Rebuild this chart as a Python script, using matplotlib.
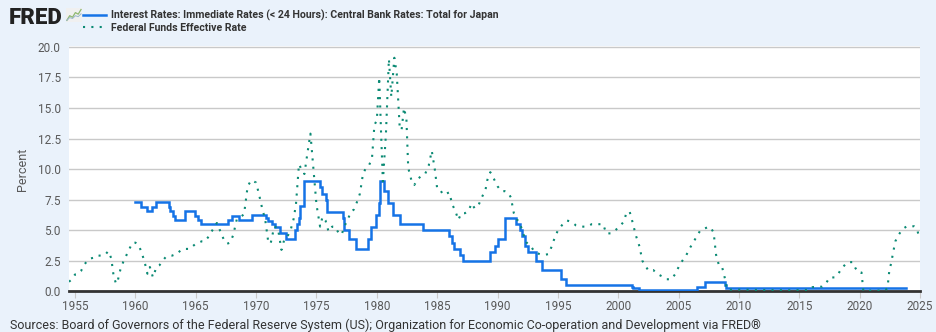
import matplotlib.pyplot as plt
import numpy as np

# Japan central bank rate (step series), decimal year -> percent
jp_dates = [1960.0, 1960.5, 1960.95, 1961.4, 1961.7, 1962.8, 1962.9, 1963.1, 1963.25,
            1964.1, 1964.95, 1965.15, 1965.4, 1967.65, 1968.0, 1968.55, 1969.7, 1970.8,
            1971.0, 1971.35, 1971.6, 1972.0, 1972.45, 1973.25, 1973.4, 1973.55, 1973.65,
            1973.95, 1975.3, 1975.45, 1975.8, 1975.85, 1977.2, 1977.3, 1977.7, 1978.3,
            1979.3, 1979.55, 1979.9, 1980.15, 1980.3, 1980.6, 1980.9, 1981.3, 1981.95,
            1983.8, 1986.0, 1986.25, 1986.4, 1986.85, 1987.15, 1989.35, 1989.8, 1990.0,
            1990.65, 1991.5, 1991.85, 1992.05, 1992.3, 1992.55, 1993.15, 1993.7, 1995.25,
            1995.7, 2001.1, 2001.25, 2001.7, 2006.55, 2007.15, 2008.8, 2008.95, 2023.85]
jp_rates = [7.30, 6.94, 6.57, 6.94, 7.30, 6.94, 6.57, 6.21, 5.84,
            6.57, 6.21, 5.84, 5.48, 5.84, 6.21, 5.84, 6.25, 6.00,
            5.75, 5.50, 5.25, 4.75, 4.25, 5.00, 5.50, 6.00, 7.00,
            9.00, 8.50, 8.00, 7.50, 6.50, 6.00, 5.00, 4.25, 3.50,
            4.25, 5.25, 6.25, 7.25, 9.00, 8.25, 7.25, 6.25, 5.50,
            5.00, 4.50, 4.00, 3.50, 3.00, 2.50, 3.25, 3.75, 4.25,
            6.00, 5.50, 5.00, 4.50, 3.75, 3.25, 2.50, 1.75, 1.00,
            0.50, 0.35, 0.25, 0.10, 0.40, 0.75, 0.50, 0.30, 0.30]

# Federal funds effective rate, decimal year -> percent
ff_dates = [1954.5, 1954.75, 1955.0, 1955.25, 1955.5, 1955.75, 1956.0, 1956.25, 1956.5,
            1956.75, 1957.0, 1957.25, 1957.5, 1957.75, 1958.0, 1958.2, 1958.4, 1958.55,
            1958.75, 1959.0, 1959.25, 1959.5, 1959.75, 1960.0, 1960.25, 1960.5, 1960.75,
            1961.0, 1961.2, 1961.45, 1961.75, 1962.0, 1962.25, 1962.5, 1962.75, 1963.0,
            1963.5, 1963.75, 1964.0, 1964.5, 1964.75, 1965.0, 1965.5, 1965.75, 1966.0,
            1966.5, 1966.75, 1967.0, 1967.3, 1967.6, 1967.85, 1968.1, 1968.4, 1968.7,
            1969.0, 1969.3, 1969.6, 1969.8, 1970.0, 1970.25, 1970.5, 1970.75, 1971.0,
            1971.2, 1971.5, 1971.8, 1972.1, 1972.35, 1972.6, 1972.85, 1973.1, 1973.3,
            1973.55, 1973.75, 1974.0, 1974.25, 1974.5, 1974.75, 1975.0, 1975.3, 1975.5,
            1975.75, 1976.0, 1976.3, 1976.55, 1976.9, 1977.1, 1977.35, 1977.6, 1977.85,
            1978.1, 1978.35, 1978.6, 1978.85, 1979.1, 1979.35, 1979.6, 1979.8, 1980.0,
            1980.2, 1980.35, 1980.5, 1980.75, 1981.0, 1981.2, 1981.45, 1981.65, 1981.9,
            1982.05, 1982.25, 1982.45, 1982.6, 1982.9, 1983.1, 1983.4, 1983.75, 1984.0,
            1984.3, 1984.55, 1984.8, 1985.0, 1985.25, 1985.5, 1985.75, 1986.0, 1986.25,
            1986.5, 1986.75, 1987.0, 1987.3, 1987.6, 1987.85, 1988.1, 1988.4, 1988.7,
            1989.0, 1989.15, 1989.4, 1989.7, 1990.0, 1990.3, 1990.6, 1990.85, 1991.1,
            1991.35, 1991.6, 1991.85, 1992.1, 1992.4, 1992.75, 1993.1, 1993.5, 1993.9,
            1994.2, 1994.45, 1994.7, 1995.0, 1995.4, 1995.75, 1996.1, 1996.5, 1997.0,
            1997.4, 1997.8, 1998.3, 1998.75, 1999.0, 1999.4, 1999.75, 2000.1, 2000.45,
            2000.7, 2000.95, 2001.2, 2001.45, 2001.75, 2002.0, 2002.5, 2002.9, 2003.3,
            2003.6, 2004.0, 2004.4, 2004.7, 2005.0, 2005.3, 2005.6, 2005.9, 2006.2,
            2006.5, 2006.8, 2007.4, 2007.65, 2007.9, 2008.1, 2008.35, 2008.6, 2008.85,
            2009.0, 2010.0, 2012.0, 2014.0, 2015.9, 2016.1, 2016.9, 2017.2, 2017.5,
            2017.9, 2018.2, 2018.5, 2018.8, 2019.0, 2019.4, 2019.65, 2019.9, 2020.15,
            2020.3, 2021.0, 2022.1, 2022.3, 2022.45, 2022.6, 2022.75, 2022.95, 2023.2,
            2023.55, 2023.9, 2024.5, 2024.75, 2024.9]
ff_rates = [0.80, 1.0, 1.39, 1.43, 1.68, 2.18, 2.48, 2.69, 2.75,
            2.93, 2.93, 2.96, 3.0, 3.3, 2.72, 1.26, 0.63, 0.93,
            1.76, 2.43, 2.96, 3.47, 3.98, 3.99, 3.84, 3.23, 2.47,
            1.45, 2.0, 1.17, 2.0, 2.15, 2.5, 2.8, 2.9, 2.92,
            3.1, 3.38, 3.48, 3.48, 3.7, 3.9, 4.1, 4.1, 4.4,
            5.2, 5.6, 5.0, 4.3, 3.9, 4.0, 4.6, 5.9, 6.1,
            6.3, 8.6, 9.1, 9.0, 8.9, 7.9, 6.8, 5.9, 4.1,
            3.9, 5.3, 5.2, 3.4, 4.3, 4.5, 5.0, 5.9, 7.1,
            10.4, 10.0, 9.6, 11.3, 12.9, 10.0, 7.1, 5.3, 6.1,
            5.8, 4.9, 5.3, 5.3, 4.65, 4.7, 5.4, 5.9, 6.5,
            6.7, 7.3, 8.0, 9.6, 10.1, 10.3, 10.9, 13.6, 14.0,
            17.5, 13.0, 9.0, 12.8, 19.0, 15.9, 19.1, 17.8, 13.3,
            13.2, 15.0, 14.1, 10.1, 8.95, 8.7, 9.2, 9.5, 9.6,
            10.3, 11.5, 10.0, 8.4, 8.3, 7.9, 8.0, 8.1, 7.1,
            6.6, 5.85, 6.4, 6.4, 6.6, 7.2, 6.8, 7.0, 7.7,
            8.3, 9.1, 9.75, 9.2, 8.6, 8.2, 8.2, 8.1, 7.7,
            6.4, 5.9, 5.6, 4.8, 4.0, 3.7, 3.2, 3.05, 3.0,
            3.05, 3.6, 4.3, 5.0, 5.5, 5.8, 5.7, 5.4, 5.3,
            5.3, 5.5, 5.5, 5.5, 4.75, 4.75, 5.0, 5.3, 5.7,
            6.5, 6.5, 5.6, 4.6, 3.7, 2.5, 1.7, 1.75, 1.4,
            1.25, 1.0, 1.0, 1.4, 2.0, 2.5, 2.9, 3.5, 4.0,
            4.5, 5.0, 5.25, 5.25, 4.8, 3.0, 2.1, 2.0, 1.0,
            0.15, 0.15, 0.12, 0.1, 0.13, 0.36, 0.4, 0.65, 1.15,
            1.15, 1.4, 1.9, 2.2, 2.4, 2.4, 1.9, 1.55, 1.55,
            0.05, 0.08, 0.08, 0.3, 1.7, 2.3, 3.1, 4.1, 4.6,
            5.1, 5.33, 5.33, 5.1, 4.5]

x_ticks = list(range(1955, 2030, 5))
y_ticks = [0.0, 2.5, 5.0, 7.5, 10.0, 12.5, 15.0, 17.5, 20.0]

jp_label = "Interest Rates: Immediate Rates (< 24 Hours): Central Bank Rates: Total for Japan"
ff_label = "Federal Funds Effective Rate"
source = ("Sources: Board of Governors of the Federal Reserve System (US); "
          "Organization for Economic Co-operation and Development via FRED\u00ae")

bg = "#eaf2fb"
blue = "#1573e6"
teal = "#0b8a74"

plt.rcParams['font.family'] = ['Roboto', 'DejaVu Sans']

fig = plt.figure(figsize=(9.36, 3.32), dpi=100, facecolor=bg)
ax = fig.add_axes([0.0737, 0.122, 0.9093, 0.739])
ax.set_facecolor("white")

ax.plot(jp_dates, jp_rates, color=blue, lw=1.8, drawstyle="steps-post",
        solid_joinstyle="miter", zorder=3)
ax.plot(ff_dates, ff_rates, color=teal, lw=1.5, linestyle=(0, (1, 3)), zorder=4)

ax.set_xlim(1954.5, 2025.0)
ax.set_ylim(0, 20.05)
ax.set_xticks(x_ticks)
ax.set_yticks(y_ticks)
ax.set_yticklabels([f"{v:.1f}" for v in y_ticks])
ax.grid(axis="y", color="#c9c9c9", lw=1)
ax.set_axisbelow(True)
for s in ["top", "right", "left"]:
    ax.spines[s].set_visible(False)
ax.spines["bottom"].set_color("#333333")
ax.spines["bottom"].set_linewidth(2)
ax.tick_params(axis="y", length=0, labelsize=8.5, labelcolor="#595959", pad=6)
ax.tick_params(axis="x", length=5, color="#c9c9c9", labelsize=8.5,
               labelcolor="#595959", pad=1)
ax.set_ylabel("Percent", fontsize=9, color="#595959", labelpad=6)

# legend in the header
h1, = ax.plot([], [], color=blue, lw=1.8)
h2, = ax.plot([], [], color=teal, lw=1.5, linestyle=(0, (1, 3)))
fig.legend([h1, h2], [jp_label, ff_label], loc="upper left",
           bbox_to_anchor=(0.079, 0.998), frameon=False, handlelength=2.1,
           handletextpad=0.5, labelspacing=0.15,
           prop={"size": 7.6, "weight": "semibold"}, labelcolor="#333333")

fig.text(0.009, 0.945, "FRED", fontsize=16, fontweight="black", color="#222222",
         va="center")
# small logo graph
logo_x = [0, 1, 2, 3, 4, 5]
logo_y = [0, 1.5, 1, 2.5, 2, 3.5]
lax = fig.add_axes([0.0705, 0.934, 0.017, 0.042])
lax.set_facecolor("#f0f0f0")
lax.plot(logo_x, logo_y, color="#8fb870", lw=0.9)
lax.plot(logo_x, [v * 0.6 for v in logo_y], color="#9ab6cc", lw=0.7)
lax.set_xlim(-0.3, 5.3)
lax.set_ylim(-0.5, 4)
lax.set_xticks([])
lax.set_yticks([])
for s in lax.spines.values():
    s.set_visible(False)

fig.text(0.011, 0.021, source, fontsize=9, color="#333333", va="center")

fig.savefig("out.png", dpi=100, facecolor=bg)
